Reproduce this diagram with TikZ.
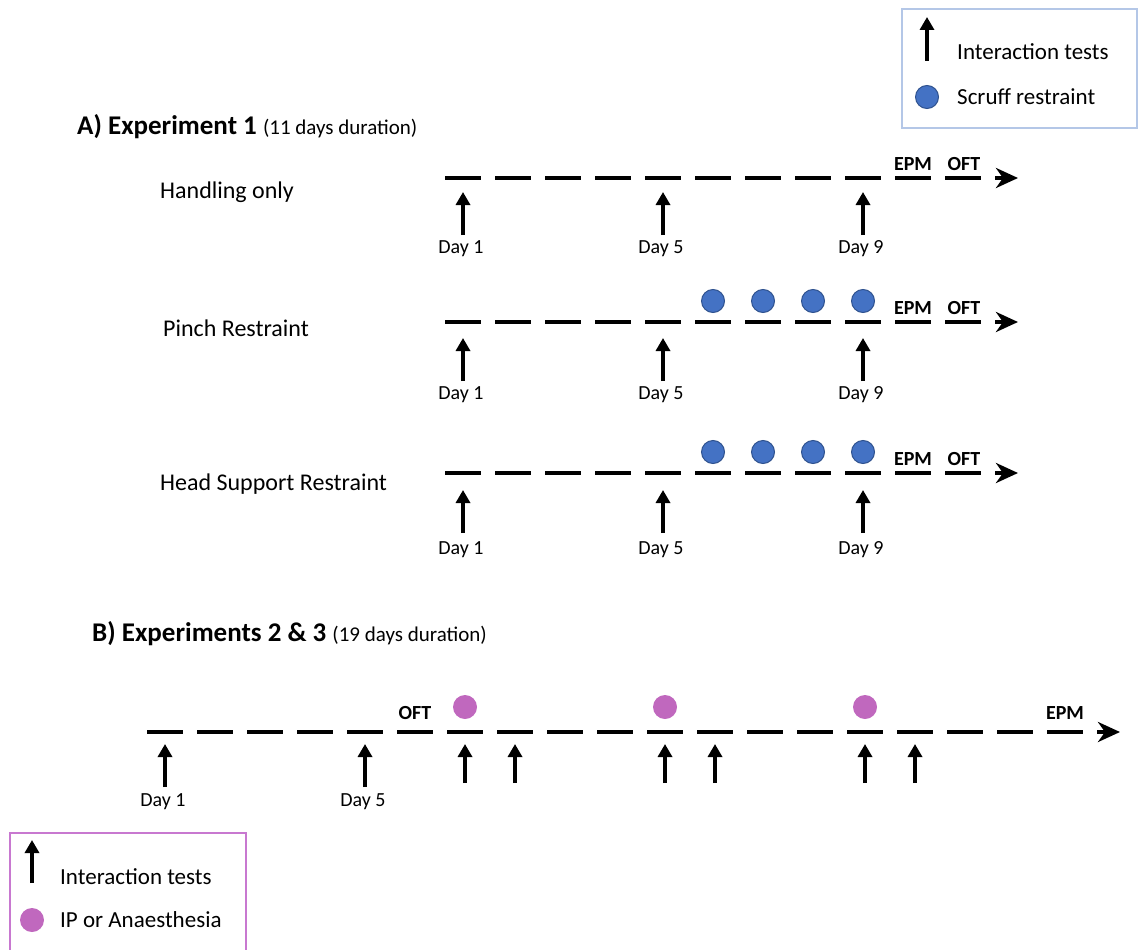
\documentclass[tikz,border=0pt]{standalone}
\usepackage{fontspec}
\setmainfont{Carlito}
\usetikzlibrary{arrows.meta}
\definecolor{dotblue}{RGB}{68,114,196}
\definecolor{dotblueedge}{RGB}{47,82,143}
\definecolor{dotpink}{RGB}{192,104,190}
\definecolor{legblue}{RGB}{180,199,231}
\definecolor{legpink}{RGB}{200,120,208}
\tikzset{
 tl/.style={line width=4.5pt},
 tlarrow/.style={line width=4.5pt,-{Stealth[length=22pt,width=20pt,inset=7pt]}},
 uparrow/.style={line width=4.3pt,-{Triangle[length=13pt,width=14pt]}},
 lbl/.style={font=\fontsize{20}{24}\selectfont, anchor=base, inner sep=0pt},
 rowlbl/.style={font=\fontsize{24}{28}\selectfont, anchor=base west, inner sep=0pt},
 legtxt/.style={font=\fontsize{23}{27}\selectfont, anchor=base west, inner sep=0pt},
 tag/.style={font=\bfseries\fontsize{20}{24}\selectfont, anchor=base, inner sep=0pt},
 bdot/.style={circle, fill=dotblue, draw=dotblueedge, line width=1pt, minimum size=23pt, inner sep=0pt},
 pdot/.style={circle, fill=dotpink, minimum size=24pt, inner sep=0pt},
 title/.style={anchor=base west, inner sep=0pt},
}
\begin{document}
\begin{tikzpicture}[x=1pt,y=-1pt]
\useasboundingbox (0,0) rectangle (1143,950);

% ---------- Legend A ----------
\draw[legblue, line width=1.2pt] (902,9) rectangle (1137,128);
\coordinate (legAb) at (927,61);
\coordinate (legAt) at (927,17);
\draw[uparrow] (legAb) -- (legAt);
\node[legtxt] (legA1) at (957,59.5) {Interaction tests};
\node[bdot] (legAd) at (927,97) {};
\node[legtxt] (legA2) at (957,104.5) {Scruff restraint};

% ---------- Title A ----------
\node[title] (tA) at (77,134) {\fontsize{27}{30}\selectfont\bfseries A) Experiment 1 \fontsize{21}{24}\selectfont\mdseries (11 days duration)};

% ---------- Rows of experiment 1 ----------
\foreach \name/\ly/\lab/\lbx/\lby/\tip/\bot/\dayb/\hasdots in
  {r1/178/Handling only/160/198/192/235/253/0,
   r2/322/Pinch Restraint/163/336/338/381/399/1,
   r3/473/Head Support Restraint/160/490/490/533/554/1}{
  \node[rowlbl] (\name lab) at (\lbx,\lby) {\lab};
  \foreach \i in {0,...,10}{
    \draw[tl] (445+50*\i,\ly) -- (481+50*\i,\ly);
  }
  \coordinate (\name as) at (995,\ly);
  \coordinate (\name ae) at (1018,\ly);
  \draw[tlarrow] (\name as) -- (\name ae);
  \node[tag] (\name epm) at (913,\ly-8) {EPM};
  \node[tag] (\name oft) at (964,\ly-8) {OFT};
  \foreach \d/\dx in {1/463,5/663,9/863}{
    \coordinate (\name b\d) at (\dx,\bot);
    \coordinate (\name t\d) at (\dx,\tip);
    \draw[uparrow] (\name b\d) -- (\name t\d);
    \node[lbl] (\name day\d) at (\dx-2,\dayb) {Day \d};
  }
  \ifnum\hasdots=1
    \foreach \k in {0,...,3}{
      \node[bdot] (\name dot\k) at (713+50*\k,\ly-21) {};
    }
  \fi
}

% ---------- Title B ----------
\node[title] (tB) at (92,641) {\fontsize{27}{30}\selectfont\bfseries B) Experiments 2 \& 3 \fontsize{21}{24}\selectfont\mdseries (19 days duration)};

% ---------- Timeline B ----------
\foreach \i in {0,...,18}{
  \draw[tl] (147+50*\i,732) -- (183+50*\i,732);
}
\coordinate (bas) at (1097,732);
\coordinate (bae) at (1120,732);
\draw[tlarrow] (bas) -- (bae);
\node[tag] (boft) at (415,719) {OFT};
\node[tag] (bepm) at (1065,719) {EPM};
\foreach \dx/\k in {465/1,665/2,865/3}{
  \node[pdot] (bdot\k) at (\dx,707) {};
}
\foreach \dx/\k in {165/1,365/5}{
  \coordinate (bb\k) at (\dx,787);
  \coordinate (bt\k) at (\dx,744);
  \draw[uparrow] (bb\k) -- (bt\k);
  \node[lbl] (bday\k) at (\dx-2,806) {Day \k};
}
\foreach \dx in {465,515,665,715,865,915}{
  \coordinate (bb\dx) at (\dx,783);
  \coordinate (bt\dx) at (\dx,744);
  \draw[uparrow] (bb\dx) -- (bt\dx);
}

% ---------- Legend B ----------
\draw[legpink, line width=1.2pt] (10,833) rectangle (246,960);
\coordinate (legBb) at (32,883);
\coordinate (legBt) at (32,840);
\draw[uparrow] (legBb) -- (legBt);
\node[legtxt] (legB1) at (60,884.5) {Interaction tests};
\node[pdot] (legBd) at (32,920) {};
\node[legtxt] (legB2) at (60,927.5) {IP or Anaesthesia};
\end{tikzpicture}
\end{document}
